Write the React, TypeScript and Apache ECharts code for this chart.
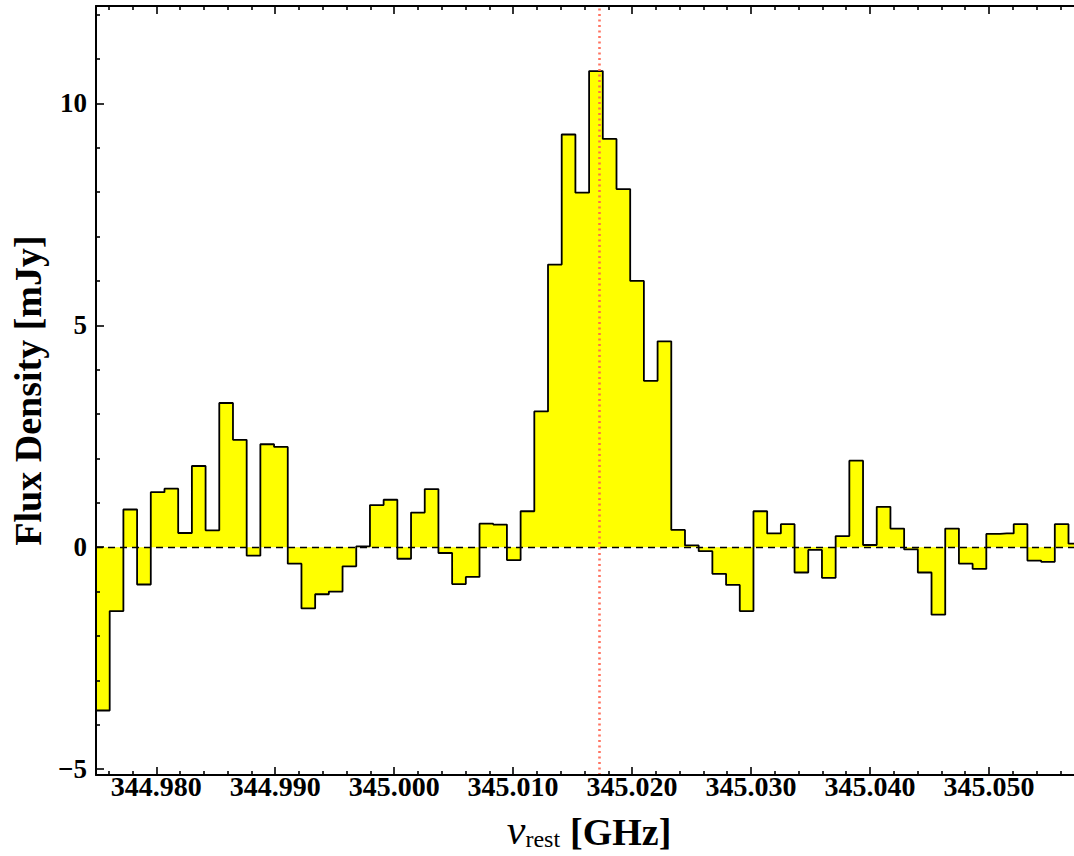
import React, { useEffect, useRef } from "react";
import * as echarts from "echarts";

// Channel centre frequencies (GHz) of the spectrum
const CHANNEL_FREQ_GHZ = [
  344.975509, 344.97666, 344.977812, 344.978963, 344.980115, 344.981267, 344.982418, 344.98357,
  344.984721, 344.985873, 344.987024, 344.988176, 344.989327, 344.990479, 344.99163, 344.992782,
  344.993933, 344.995085, 344.996236, 344.997388, 344.998539, 344.999691, 345.000842, 345.001994,
  345.003145, 345.004297, 345.005448, 345.0066, 345.007751, 345.008903, 345.010054, 345.011206,
  345.012357, 345.013509, 345.01466, 345.015812, 345.016963, 345.018115, 345.019266, 345.020418,
  345.021569, 345.022721, 345.023872, 345.025024, 345.026175, 345.027327, 345.028478, 345.02963,
  345.030781, 345.031933, 345.033084, 345.034236, 345.035387, 345.036539, 345.03769, 345.038842,
  345.039993, 345.041145, 345.042296, 345.043448, 345.044599, 345.045751, 345.046902, 345.048054,
  345.049205, 345.050357, 345.051508, 345.05266, 345.053811, 345.054963, 345.056114, 345.057266,
];

// Flux density per channel (mJy)
const FLUX_MJY = [
  -3.68, -1.44, 0.85, -0.84, 1.24, 1.32, 0.32, 1.83,
  0.38, 3.25, 2.42, -0.19, 2.32, 2.26, -0.37, -1.38,
  -1.06, -1.0, -0.43, 0.02, 0.95, 1.07, -0.26, 0.78,
  1.31, -0.13, -0.83, -0.67, 0.53, 0.51, -0.29, 0.81,
  3.06, 6.37, 9.3, 7.99, 10.73, 9.2, 8.07, 6.0,
  3.75, 4.64, 0.39, 0.04, -0.09, -0.6, -0.85, -1.44,
  0.81, 0.31, 0.52, -0.57, -0.06, -0.69, 0.25, 1.95,
  0.05, 0.91, 0.42, -0.05, -0.57, -1.52, 0.42, -0.37,
  -0.49, 0.3, 0.31, 0.52, -0.3, -0.33, 0.52, 0.08,
];

const CHANNEL_WIDTH_GHZ = 0.0011515;
const LINE_FREQ_GHZ = 345.0172;
const Y_MIN = -5.133;
const Y_MAX = 12.196;

const FONT = "'Liberation Serif', 'Times New Roman', Times, serif";

export default function App() {
  const ref = useRef<HTMLDivElement>(null);

  useEffect(() => {
    if (!ref.current) return;
    const chart = echarts.init(ref.current, undefined, { renderer: "svg" });

    const xMin = CHANNEL_FREQ_GHZ[0] - CHANNEL_WIDTH_GHZ / 2;
    const xMax = CHANNEL_FREQ_GHZ[CHANNEL_FREQ_GHZ.length - 1] + CHANNEL_WIDTH_GHZ / 2;

    const stepData: number[][] = [
      [xMin, FLUX_MJY[0]],
      ...CHANNEL_FREQ_GHZ.map((f, i) => [f, FLUX_MJY[i]]),
      [xMax, FLUX_MJY[FLUX_MJY.length - 1]],
    ];

    const tickStyle = { color: "#000", width: 1.6 };
    const baseX = {
      type: "value" as const,
      min: xMin,
      max: xMax,
      splitNumber: 8,
      z: 10,
      axisLine: { show: true, onZero: false, lineStyle: { color: "#000", width: 2 } },
      axisTick: { show: true, inside: true, length: 8, lineStyle: tickStyle },
      minorTick: { show: true, splitNumber: 5, length: 4, lineStyle: tickStyle },
      splitLine: { show: false },
      minorSplitLine: { show: false },
    };
    const baseY = {
      type: "value" as const,
      min: Y_MIN,
      max: Y_MAX,
      splitNumber: 3,
      z: 10,
      axisLine: { show: true, onZero: false, lineStyle: { color: "#000", width: 2 } },
      axisTick: { show: true, inside: true, length: 8, lineStyle: tickStyle },
      minorTick: { show: true, splitNumber: 5, length: 4, lineStyle: tickStyle },
      splitLine: { show: false },
      minorSplitLine: { show: false },
    };

    chart.setOption({
      animation: false,
      backgroundColor: "#fff",
      grid: { left: 96, right: 7.8, top: 6, bottom: 78, containLabel: false },
      xAxis: [
        {
          ...baseX,
          position: "bottom",
          axisLabel: {
            show: true,
            showMinLabel: false,
            showMaxLabel: false,
            margin: -3,
            fontFamily: FONT,
            fontWeight: "bold",
            fontSize: 28,
            color: "#000",
            formatter: (v: number) => v.toFixed(3),
          },
          name: "{nu|ν}{sub|rest}{sp| }{b|[GHz]}",
          nameLocation: "middle",
          nameGap: 32,
          nameTextStyle: {
            rich: {
              nu: { fontFamily: FONT, fontStyle: "italic", fontSize: 42, lineHeight: 44, color: "#000", verticalAlign: "bottom" },
              sub: { fontFamily: FONT, fontSize: 24, lineHeight: 18, color: "#000", verticalAlign: "bottom" },
              sp: { fontFamily: FONT, fontSize: 40, lineHeight: 44, color: "#000", verticalAlign: "bottom" },
              b: { fontFamily: FONT, fontWeight: "bold", fontSize: 38, lineHeight: 44, color: "#000", verticalAlign: "bottom" },
            },
          },
        },
        {
          ...baseX,
          position: "top",
          axisLabel: { show: false },
        },
      ],
      yAxis: [
        {
          ...baseY,
          position: "left",
          axisLabel: {
            show: true,
            showMinLabel: false,
            showMaxLabel: false,
            margin: 9,
            fontFamily: FONT,
            fontWeight: "bold",
            fontSize: 27,
            color: "#000",
            formatter: (v: number) => String(v).replace("-", "\u2212"),
          },
          name: "Flux Density [mJy]",
          nameLocation: "middle",
          nameRotate: 90,
          nameGap: 46,
          nameTextStyle: { fontFamily: FONT, fontWeight: "bold", fontSize: 38, color: "#000" },
        },
        {
          ...baseY,
          position: "right",
          axisLabel: { show: false },
        },
      ],
      series: [
        {
          type: "line",
          xAxisIndex: 0,
          yAxisIndex: 0,
          data: stepData,
          step: "middle",
          symbol: "none",
          lineStyle: { color: "#000", width: 1.8 },
          areaStyle: { color: "#ffff00", opacity: 1 },
          z: 2,
          markLine: {
            silent: true,
            precision: 6,
            symbol: ["none", "none"],
            label: { show: false },
            data: [
              { yAxis: 0, lineStyle: { color: "#000", width: 1.3, type: [7, 5] } },
              { xAxis: LINE_FREQ_GHZ, lineStyle: { color: "#ff6450", width: 2.6, type: [2, 3.5], opacity: 0.9 } },
            ],
          },
        },
      ],
    });

    return () => chart.dispose();
  }, []);

  return (
    <div style={{ position: "absolute", left: 0, top: 0, width: 1074, height: 856, overflow: "hidden", background: "#fff" }}>
      <div ref={ref} style={{ width: 1090, height: 856 }} />
    </div>
  );
}
